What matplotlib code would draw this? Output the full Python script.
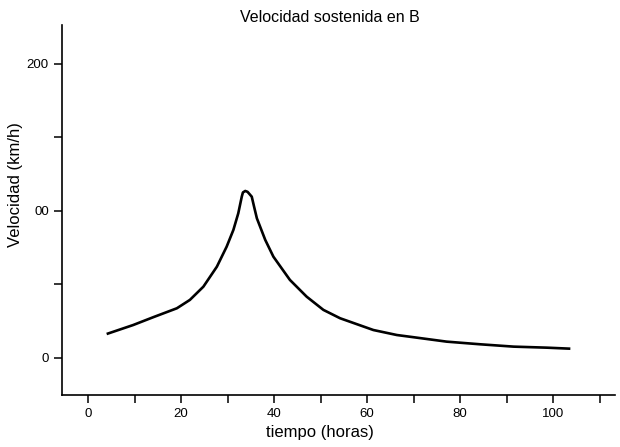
import matplotlib
matplotlib.use("Agg")
import matplotlib.pyplot as plt

plt.rcParams['font.family'] = ['Liberation Sans', 'DejaVu Sans']

# Data
tiempo = [4.0, 9.7, 14.0, 19.1, 21.9, 24.8, 27.7, 29.8, 31.25, 32.3, 33.05, 33.3,
          33.8, 34.3, 35.2, 35.7, 36.3, 38.1, 39.85, 43.4, 47.0, 50.6, 54.2,
          61.35, 66.4, 70.0, 77.1, 84.3, 91.5, 98.65, 103.7]
velocidad = [16.3, 22.4, 27.7, 33.8, 39.5, 48.5, 62.1, 75.7, 87.1, 98.4, 109.7, 112.6,
             113.6, 113.0, 109.7, 102.9, 95.0, 80.3, 68.9, 53.1, 41.7, 32.7, 27.0,
             19.0, 15.6, 14.1, 11.1, 9.3, 7.7, 7.0, 6.3]

xticks_major = [0, 20, 40, 60, 80, 100]
xtick_labels = ['0', '20', '40', '60', '80', '100']
xticks_minor = [10, 30, 50, 70, 90, 110]
yticks_major = [0, 100, 200]
ytick_labels = ['0', '00', '200']
yticks_minor = [50, 150]

fig = plt.figure(figsize=(6.2, 4.47), dpi=100)
ax = fig.add_axes([62/620, 1-395/447, (615-62)/620, (395-25)/447])

ax.plot(tiempo, velocidad, color='black', lw=1.9, solid_capstyle='butt',
        solid_joinstyle='round')

ax.set_xlim(-5.6, 113.3)
ax.set_ylim(-25.2, 226.5)

ax.set_xticks(xticks_major)
ax.set_xticklabels(xtick_labels)
ax.set_xticks(xticks_minor, minor=True)
ax.set_yticks(yticks_major)
ax.set_yticklabels(ytick_labels)
ax.set_yticks(yticks_minor, minor=True)

for s in ['top', 'right']:
    ax.spines[s].set_visible(False)
for s in ['left', 'bottom']:
    ax.spines[s].set_linewidth(1.2)

ax.tick_params(axis='both', which='both', direction='out', length=5.5, width=1.1,
               labelsize=9.5, pad=4)

fig.text(330/620, 1-18/447, 'Velocidad sostenida en B', ha='center', va='center',
         fontsize=11.5)
fig.text(320/620, 1-433/447, 'tiempo (horas)', ha='center', va='center',
         fontsize=12)
fig.text(16/620, 1-185/447, 'Velocidad (km/h)', ha='center', va='center',
         rotation=90, fontsize=12)

fig.savefig('out.png', dpi=100)
